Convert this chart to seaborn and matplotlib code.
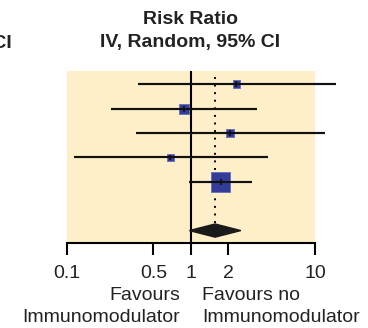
import matplotlib
matplotlib.use("Agg")
import matplotlib.pyplot as plt
import seaborn as sns
import pandas as pd
import numpy as np

# ---- data ----
rows = [1, 2, 3, 4, 5]
rr = [2.33, 0.88, 2.07, 0.685, 1.74]
ci_low = [0.375, 0.227, 0.363, 0.114, 0.975]
ci_high = [14.7, 3.42, 12.05, 4.16, 3.11]
weights = [9.2, 14.4, 8.5, 8.5, 59.4]
pooled = 1.57
pooled_low = 0.975
pooled_high = 2.53
pooled_row = 7
tick_values = [0.1, 0.5, 1, 2, 10]
tick_labels = ["0.1", "0.5", "1", "2", "10"]
title_lines = ["Risk Ratio", "IV, Random, 95% CI"]
left_label = ["Favours", "Immunomodulator"]
right_label = ["Favours no", "Immunomodulator"]

df = pd.DataFrame({"row": rows, "rr": rr, "lo": ci_low, "hi": ci_high, "w": weights})

sns.set_style("white")
plt.rcParams["font.family"] = ["Liberation Sans", "DejaVu Sans"]

W, H = 368, 328
fig = plt.figure(figsize=(W / 100, H / 100), dpi=100)

def fx(px):
    return px / W

def fy(py):
    return 1 - py / H

left, right, top, bottom = 66.5, 315.0, 71.0, 243.0
ax = fig.add_axes([fx(left), fy(bottom), fx(right) - fx(left), (bottom - top) / H])
ax.set_facecolor("#FFEFC9")
ax.set_xscale("log")
ax.set_xlim(0.1, 10)
ax.set_ylim(7.51, 0.455)

# line of no effect
ax.axvline(1, color="black", lw=1.5, zorder=2)
# dotted pooled line
ax.vlines(pooled, 0.7, pooled_row - 0.27, colors="black", lw=1.4,
          linestyles=[(0, (1, 2.9))], zorder=2)

# CI lines
ax.hlines(df["row"], df["lo"], df["hi"], colors="#111111", lw=1.5, zorder=3, clip_on=False)

# squares
sns.scatterplot(data=df, x="rr", y="row", size="w", sizes=(0, 200), size_norm=(0, max(weights)),
                marker="s", color="#333D99", edgecolor="#6A72BA", linewidth=0.7,
                legend=False, ax=ax, zorder=4, clip_on=False)

# estimate ticks
ax.vlines(df["rr"], df["row"] - 0.12, df["row"] + 0.12, colors="#111111", lw=1.2, zorder=5)
ax.hlines(df["row"], df["lo"], df["hi"], colors="#111111", lw=1.5, zorder=5, clip_on=False)

# diamond
dh = 0.27
ax.fill([pooled_low, pooled, pooled_high, pooled],
        [pooled_row, pooled_row - dh, pooled_row, pooled_row + dh],
        color="#1A1A1A", zorder=6, clip_on=False)

for s in ["top", "right", "left"]:
    ax.spines[s].set_visible(False)
ax.spines["bottom"].set_linewidth(1.5)
ax.spines["bottom"].set_color("black")
ax.set_xticks(tick_values)
ax.set_xticklabels(tick_labels, fontsize=14)
ax.xaxis.set_minor_locator(matplotlib.ticker.NullLocator())
ax.tick_params(axis="x", direction="out", length=8.6, width=1.5, pad=7.5, colors="black",
               labelcolor="#222222", bottom=True)
ax.set_yticks([])
ax.set_xlabel("")
ax.set_ylabel("")

# titles
fig.text(fx(190.5), fy(20), title_lines[0], ha="center", va="center", fontsize=14,
         fontweight="bold", color="#222222")
fig.text(fx(190.5), fy(43), title_lines[1], ha="center", va="center", fontsize=14,
         fontweight="bold", color="#222222")
fig.text(fx(12), fy(43), "95% CI", ha="right", va="center", fontsize=14,
         fontweight="bold", color="#222222")

# favours labels
for txt, yy in zip(left_label, [296, 317]):
    fig.text(fx(180), fy(yy), txt, ha="right", va="center", fontsize=14, color="#222222")
for txt, yy in zip(right_label, [296, 317]):
    fig.text(fx(202), fy(yy), txt, ha="left", va="center", fontsize=14, color="#222222")

fig.savefig("out.png", dpi=100)
